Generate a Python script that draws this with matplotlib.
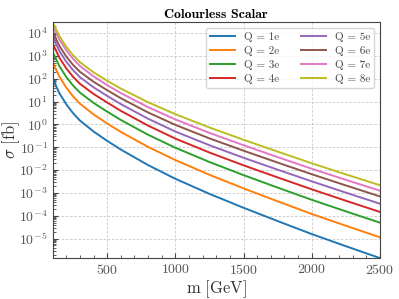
import numpy as np
import matplotlib
matplotlib.use("Agg")
import matplotlib.pyplot as plt
from matplotlib.ticker import MultipleLocator, FuncFormatter, LogLocator

plt.rcParams['font.family'] = 'serif'
plt.rcParams['font.serif'] = ['cmr10', 'DejaVu Serif']
plt.rcParams['mathtext.fontset'] = 'cm'
plt.rcParams['axes.formatter.use_mathtext'] = True
plt.rcParams['axes.unicode_minus'] = False

mass = [100, 150, 200, 250, 300, 400, 500, 600, 800, 1000, 1250, 1500, 1750, 2000, 2250, 2500]

# log10(sigma / fb) for each charge
log_sigma_q1 = [2.00, 1.36, 0.88, 0.49, 0.17, -0.31, -0.72, -1.10, -1.78, -2.38, -3.04, -3.65, -4.23, -4.80, -5.33, -5.85]
log_sigma_q2 = [2.72, 2.085, 1.61, 1.225, 0.91, 0.44, 0.04, -0.328, -0.984, -1.56, -2.205, -2.80, -3.365, -3.92, -4.435, -4.94]
log_sigma_q3 = [3.17, 2.544, 2.078, 1.701, 1.395, 0.943, 0.56, 0.196, -0.452, -1.02, -1.645, -2.22, -2.765, -3.30, -3.805, -4.30]
log_sigma_q4 = [3.54, 2.918, 2.455, 2.083, 1.78, 1.335, 0.96, 0.596, -0.052, -0.62, -1.23, -1.79, -2.32, -2.84, -3.34, -3.83]
log_sigma_q5 = [3.83, 3.208, 2.745, 2.373, 2.07, 1.625, 1.25, 0.89, 0.25, -0.31, -0.91, -1.46, -1.98, -2.49, -2.985, -3.47]
log_sigma_q6 = [4.05, 3.431, 2.973, 2.604, 2.305, 1.868, 1.50, 1.148, 0.524, -0.02, -0.61, -1.15, -1.67, -2.18, -2.67, -3.15]
log_sigma_q7 = [4.34, 3.713, 3.245, 2.868, 2.56, 2.105, 1.72, 1.372, 0.756, 0.22, -0.37, -0.91, -1.43, -1.94, -2.425, -2.90]
log_sigma_q8 = [4.48, 3.859, 3.398, 3.026, 2.725, 2.283, 1.91, 1.57, 0.97, 0.45, -0.135, -0.67, -1.19, -1.70, -2.185, -2.66]

series = [log_sigma_q1, log_sigma_q2, log_sigma_q3, log_sigma_q4,
          log_sigma_q5, log_sigma_q6, log_sigma_q7, log_sigma_q8]
labels = ["Q = 1e", "Q = 2e", "Q = 3e", "Q = 4e", "Q = 5e", "Q = 6e", "Q = 7e", "Q = 8e"]
colors = ['#1f77b4', '#ff7f0e', '#2ca02c', '#d62728', '#9467bd', '#8c564b', '#e377c2', '#bcbd22']
x_ticks = [500, 1000, 1500, 2000, 2500]

fig = plt.figure(figsize=(3.99, 2.99), dpi=100)
ax = fig.add_axes([0.132, 0.137, 0.820, 0.789])

for vals, lab, c in zip(series, labels, colors):
    ax.plot(mass, 10.0 ** np.array(vals), lw=1.4, label=lab, color=c)

ax.set_yscale('log')
ax.set_xlim(100, 2500)
all_vals = np.concatenate([np.array(s) for s in series])
ax.set_ylim(10.0 ** all_vals.min(), 10.0 ** all_vals.max())

ax.set_xticks(x_ticks)
ax.xaxis.set_minor_locator(MultipleLocator(100))
ax.xaxis.set_major_formatter(FuncFormatter(lambda v, p: r"$%d$" % v))
ax.yaxis.set_major_locator(LogLocator(base=10, numticks=20))
ax.yaxis.set_minor_locator(LogLocator(base=10, subs=np.arange(2, 10), numticks=20))

ax.tick_params(which='both', direction='in', top=False, right=False, labelsize=10, colors='#444444')
ax.tick_params(which='major', length=3.5)
ax.tick_params(which='minor', length=2)
for lbl in ax.get_xticklabels() + ax.get_yticklabels():
    lbl.set_color('#555555')

ax.grid(True, which='major', ls=(0, (3, 2)), lw=0.6, color='#c8c8c8')
for sp in ax.spines.values():
    sp.set_color('#444444')

ax.set_xlabel(r"$\mathrm{m\ [GeV]}$", fontsize=12, labelpad=1, color='#333333')
ax.set_ylabel(r"$\sigma\ \mathrm{[fb]}$", fontsize=12, color='#333333')
ax.yaxis.set_label_coords(-0.095, 0.5)
ax.set_title("Colourless Scalar", fontfamily='cmb10', fontsize=10, pad=3)

leg = ax.legend(ncol=2, loc='upper right', fontsize=8, handlelength=2.2,
                columnspacing=2.0, borderaxespad=0.5, labelspacing=0.35,
                framealpha=0.8, edgecolor='#cccccc')
for t in leg.get_texts():
    t.set_color('#444444')

fig.savefig("out.png", dpi=100)
